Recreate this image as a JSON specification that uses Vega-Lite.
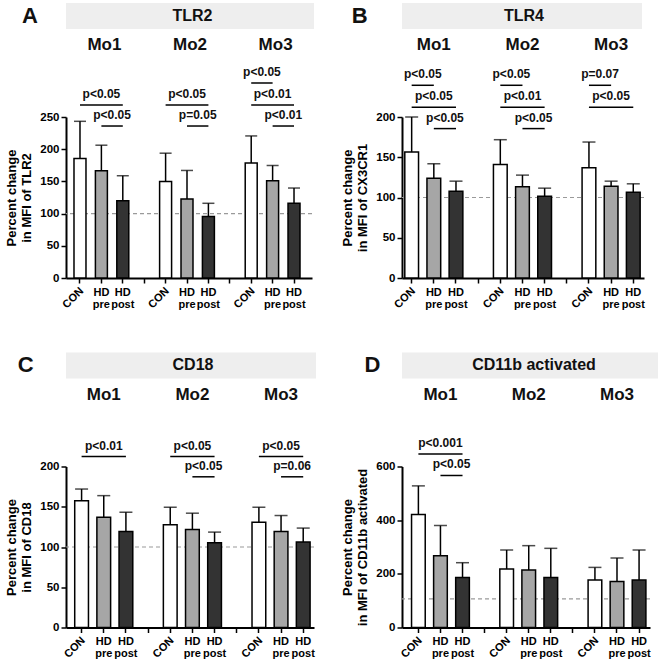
{
"$schema": "https://vega.github.io/schema/vega-lite/v6.json",
"padding": {"left": 5, "top": 3, "right": 0, "bottom": 0},
"columns": 2,
"bounds": "flush",
"spacing": {"row": 188.5, "column": 88},
"config": {
 "font": "Liberation Sans",
 "view": {"stroke": null},
 "axis": {"grid": false, "domainColor": "black", "domainWidth": 2, "tickColor": "black", "tickWidth": 1.5, "tickSize": 5, "labelColor": "black", "labelFontSize": 11.5, "labelFontWeight": "bold", "titleColor": "black", "titleFontSize": 13, "titleFontWeight": "bold", "labelOverlap": false, "labelFont": "Liberation Sans", "titleFont": "Liberation Sans"},
 "axisX": {"labelFontSize": 11},
 "axisY": {"labelPadding": 2, "titlePadding": 6, "titleLineHeight": 15},
 "text": {"color": "#111111", "font": "Liberation Sans"},
 "rule": {"color": "black"},
 "tick": {"color": "black"}
},
"datasets": {
 "A": [
  {"key":"Mo1 CON","grp":"CON","mean":185.6,"upper":243.3},
  {"key":"Mo1 HD pre","grp":"HD pre","mean":166.5,"upper":206.2},
  {"key":"Mo1 HD post","grp":"HD post","mean":120.1,"upper":158.8},
  {"key":"Mo2 CON","grp":"CON","mean":150,"upper":193.8},
  {"key":"Mo2 HD pre","grp":"HD pre","mean":122.7,"upper":167},
  {"key":"Mo2 HD post","grp":"HD post","mean":95.4,"upper":116},
  {"key":"Mo3 CON","grp":"CON","mean":178.4,"upper":220.6},
  {"key":"Mo3 HD pre","grp":"HD pre","mean":151,"upper":174.7},
  {"key":"Mo3 HD post","grp":"HD post","mean":116,"upper":139.7}
 ],
 "Ap": [
  {"from":"Mo1 CON","to":"Mo1 HD post","level":268.6,"label":"p<0.05"},
  {"from":"Mo1 HD pre","to":"Mo1 HD post","level":236,"label":"p<0.05"},
  {"from":"Mo2 CON","to":"Mo2 HD post","level":268.6,"label":"p<0.05"},
  {"from":"Mo2 HD pre","to":"Mo2 HD post","level":236,"label":"p=0.05"},
  {"from":"Mo3 CON","to":"Mo3 HD pre","level":302.8,"label":"p<0.05"},
  {"from":"Mo3 CON","to":"Mo3 HD post","level":268.6,"label":"p<0.01"},
  {"from":"Mo3 HD pre","to":"Mo3 HD post","level":236,"label":"p<0.01"}
 ],
 "B": [
  {"key":"Mo1 CON","grp":"CON","mean":156.4,"upper":200},
  {"key":"Mo1 HD pre","grp":"HD pre","mean":124,"upper":141.9},
  {"key":"Mo1 HD post","grp":"HD post","mean":107.9,"upper":120.3},
  {"key":"Mo2 CON","grp":"CON","mean":141,"upper":171.8},
  {"key":"Mo2 HD pre","grp":"HD pre","mean":113.3,"upper":127.8},
  {"key":"Mo2 HD post","grp":"HD post","mean":101.7,"upper":111.6},
  {"key":"Mo3 CON","grp":"CON","mean":137,"upper":168.9},
  {"key":"Mo3 HD pre","grp":"HD pre","mean":114.1,"upper":120.3},
  {"key":"Mo3 HD post","grp":"HD post","mean":106.6,"upper":117}
 ],
 "Bp": [
  {"from":"Mo1 CON","to":"Mo1 HD pre","level":239.4,"label":"p<0.05"},
  {"from":"Mo1 CON","to":"Mo1 HD post","level":212,"label":"p<0.05"},
  {"from":"Mo1 HD pre","to":"Mo1 HD post","level":185.6,"label":"p<0.05"},
  {"from":"Mo2 CON","to":"Mo2 HD pre","level":239.4,"label":"p<0.05"},
  {"from":"Mo2 CON","to":"Mo2 HD post","level":212,"label":"p<0.01"},
  {"from":"Mo2 HD pre","to":"Mo2 HD post","level":185.6,"label":"p<0.05"},
  {"from":"Mo3 CON","to":"Mo3 HD pre","level":239.4,"label":"p=0.07"},
  {"from":"Mo3 CON","to":"Mo3 HD post","level":212,"label":"p<0.05"}
 ],
 "C": [
  {"key":"Mo1 CON","grp":"CON","mean":157.6,"upper":172},
  {"key":"Mo1 HD pre","grp":"HD pre","mean":137,"upper":163.8},
  {"key":"Mo1 HD post","grp":"HD post","mean":119.3,"upper":143.2},
  {"key":"Mo2 CON","grp":"CON","mean":127.6,"upper":149.4},
  {"key":"Mo2 HD pre","grp":"HD pre","mean":121.8,"upper":142},
  {"key":"Mo2 HD post","grp":"HD post","mean":105.3,"upper":118.5},
  {"key":"Mo3 CON","grp":"CON","mean":130.9,"upper":149.4},
  {"key":"Mo3 HD pre","grp":"HD pre","mean":119.3,"upper":139.1},
  {"key":"Mo3 HD post","grp":"HD post","mean":106.2,"upper":123.5}
 ],
 "Cp": [
  {"from":"Mo1 CON","to":"Mo1 HD post","level":212.4,"label":"p<0.01"},
  {"from":"Mo2 CON","to":"Mo2 HD post","level":212.4,"label":"p<0.05"},
  {"from":"Mo2 HD pre","to":"Mo2 HD post","level":187.2,"label":"p<0.05"},
  {"from":"Mo3 CON","to":"Mo3 HD post","level":212.4,"label":"p<0.05"},
  {"from":"Mo3 HD pre","to":"Mo3 HD post","level":187.2,"label":"p=0.06"}
 ],
 "D": [
  {"key":"Mo1 CON","grp":"CON","mean":420.7,"upper":527.8},
  {"key":"Mo1 HD pre","grp":"HD pre","mean":267.6,"upper":379.7},
  {"key":"Mo1 HD post","grp":"HD post","mean":186.7,"upper":241.5},
  {"key":"Mo2 CON","grp":"CON","mean":217.8,"upper":288.8},
  {"key":"Mo2 HD pre","grp":"HD pre","mean":214.1,"upper":305},
  {"key":"Mo2 HD post","grp":"HD post","mean":186.7,"upper":295},
  {"key":"Mo3 CON","grp":"CON","mean":176.8,"upper":224},
  {"key":"Mo3 HD pre","grp":"HD pre","mean":171.8,"upper":259},
  {"key":"Mo3 HD post","grp":"HD post","mean":176.8,"upper":288.8}
 ],
 "Dp": [
  {"from":"Mo1 CON","to":"Mo1 HD post","level":647,"label":"p<0.001"},
  {"from":"Mo1 HD pre","to":"Mo1 HD post","level":566.5,"label":"p<0.05"}
 ],
 "Mo": [
  {"mo":"Mo1","key":"Mo1 HD pre"},
  {"mo":"Mo2","key":"Mo2 HD pre"},
  {"mo":"Mo3","key":"Mo3 HD pre"}
 ]
},
"concat": [
 {
  "width": 246, "height": 161,
  "resolve": {"axis": {"x": "independent", "y": "independent"}},
  "layer": [
   {"data": {"values": [{}]}, "mark": {"type": "rect", "color": "#eeeeee", "xOffset": 2, "x2Offset": 5},
    "encoding": {"y": {"datum": 386.6, "type": "quantitative", "axis": null}, "y2": {"datum": 427}}},
   {"data": {"values": [{}]}, "mark": {"type": "text", "text": "TLR2", "fontSize": 16, "fontWeight": "bold", "baseline": "middle", "dx": 3.5},
    "encoding": {"y": {"datum": 406.8, "type": "quantitative", "axis": null}}},
   {"data": {"values": [{}]}, "mark": {"type": "text", "text": "A", "fontSize": 22, "fontWeight": "bold", "baseline": "middle", "align": "center", "dx": -50},
    "encoding": {"x": {"datum": "Mo1 CON", "type": "nominal", "axis": null}, "y": {"datum": 406.8, "type": "quantitative", "axis": null}}},
   {"data": {"name": "Mo"}, "mark": {"type": "text", "fontSize": 17, "fontWeight": "bold", "baseline": "middle", "dx": 3},
    "encoding": {"x": {"field": "key", "type": "nominal", "axis": null}, "y": {"datum": 361.8, "type": "quantitative", "axis": null}, "text": {"field": "mo"}}},
   {"data": {"values": [{}]}, "mark": {"type": "rule", "strokeDash": [4, 3], "color": "#9a9a9a", "strokeWidth": 1.2},
    "encoding": {"y": {"datum": 100, "type": "quantitative", "axis": null}}},
   {"data": {"name": "A"}, "mark": {"type": "bar", "stroke": "black", "strokeWidth": 1.5},
    "encoding": {
     "x": {"field": "key", "type": "nominal",
      "scale": {"domain": ["Mo1 CON","Mo1 HD pre","Mo1 HD post","s1","Mo2 CON","Mo2 HD pre","Mo2 HD post","s2","Mo3 CON","Mo3 HD pre","Mo3 HD post"], "paddingInner": 0.44, "paddingOuter": 0.467, "align": 0.4},
      "axis": {"title": null, "orient": "bottom", "labelExpr": "indexof(datum.value,'CON')>=0 ? 'CON' : ''", "labelAngle": -45, "labelAlign": "right", "labelBaseline": "middle", "labelPadding": 6, "labelOffset": 2}},
     "y": {"field": "mean", "type": "quantitative", "scale": {"domain": [0, 250], "nice": false},
      "axis": {"title": ["Percent change", "in MFI of TLR2"], "values": [0, 50, 100, 150, 200, 250], "labelOverlap": false, "orient": "left"}},
     "color": {"field": "grp", "type": "nominal", "scale": {"domain": ["CON", "HD pre", "HD post"], "range": ["#ffffff", "#a6a6a6", "#333333"]}, "legend": null}
    }},
   {"data": {"name": "A"}, "mark": {"type": "rule", "strokeWidth": 1.5},
    "encoding": {
     "x": {"field": "key", "type": "nominal",
      "axis": {"title": null, "orient": "bottom", "domain": false, "ticks": false, "labelExpr": "indexof(datum.value,'HD pre')>=0 ? ['HD','pre'] : indexof(datum.value,'HD post')>=0 ? ['HD','post'] : ''", "labelAngle": 0, "labelAlign": "center", "labelBaseline": "top", "labelPadding": 8, "labelLineHeight": 12}},
     "y": {"field": "mean", "type": "quantitative", "axis": null}, "y2": {"field": "upper"}}},
   {"data": {"name": "A"}, "mark": {"type": "tick", "thickness": 1.5, "size": 12},
    "encoding": {"x": {"field": "key", "type": "nominal", "axis": null}, "y": {"field": "upper", "type": "quantitative", "axis": null}}},
   {"data": {"name": "Ap"}, "mark": {"type": "rule", "strokeWidth": 1.5},
    "encoding": {"x": {"field": "from", "type": "nominal", "axis": null}, "x2": {"field": "to"}, "y": {"field": "level", "type": "quantitative", "axis": null}}},
   {"data": {"name": "Ap"}, "transform": [{"filter": "indexof(datum.from,'CON')>=0 && indexof(datum.to,'post')>=0"}],
    "mark": {"type": "text", "fontSize": 12, "fontWeight": "bold", "baseline": "alphabetic", "dy": -7},
    "encoding": {"x": {"field": "from", "type": "nominal", "bandPosition": 2.286, "axis": null}, "y": {"field": "level", "type": "quantitative", "axis": null}, "text": {"field": "label"}}},
   {"data": {"name": "Ap"}, "transform": [{"filter": "!(indexof(datum.from,'CON')>=0 && indexof(datum.to,'post')>=0)"}],
    "mark": {"type": "text", "fontSize": 12, "fontWeight": "bold", "baseline": "alphabetic", "dy": -7},
    "encoding": {"x": {"field": "from", "type": "nominal", "bandPosition": 1.393, "axis": null}, "y": {"field": "level", "type": "quantitative", "axis": null}, "text": {"field": "label"}}}
  ]
 },
 {
  "width": 242, "height": 161,
  "resolve": {"axis": {"x": "independent", "y": "independent"}},
  "layer": [
   {"data": {"values": [{}]}, "mark": {"type": "rect", "color": "#eeeeee", "xOffset": -2, "x2Offset": 4},
    "encoding": {"y": {"datum": 309.3, "type": "quantitative", "axis": null}, "y2": {"datum": 341.6}}},
   {"data": {"values": [{}]}, "mark": {"type": "text", "text": "TLR4", "fontSize": 16, "fontWeight": "bold", "baseline": "middle", "dx": 1},
    "encoding": {"y": {"datum": 325.5, "type": "quantitative", "axis": null}}},
   {"data": {"values": [{}]}, "mark": {"type": "text", "text": "B", "fontSize": 22, "fontWeight": "bold", "baseline": "middle", "align": "center", "dx": -52},
    "encoding": {"x": {"datum": "Mo1 CON", "type": "nominal", "axis": null}, "y": {"datum": 325.5, "type": "quantitative", "axis": null}}},
   {"data": {"name": "Mo"}, "mark": {"type": "text", "fontSize": 17, "fontWeight": "bold", "baseline": "middle"},
    "encoding": {"x": {"field": "key", "type": "nominal", "axis": null}, "y": {"datum": 289.4, "type": "quantitative", "axis": null}, "text": {"field": "mo"}}},
   {"data": {"values": [{}]}, "mark": {"type": "rule", "strokeDash": [4, 3], "color": "#9a9a9a", "strokeWidth": 1.2},
    "encoding": {"y": {"datum": 100, "type": "quantitative", "axis": null}}},
   {"data": {"name": "B"}, "mark": {"type": "bar", "stroke": "black", "strokeWidth": 1.5},
    "encoding": {
     "x": {"field": "key", "type": "nominal",
      "scale": {"domain": ["Mo1 CON","Mo1 HD pre","Mo1 HD post","s1","Mo2 CON","Mo2 HD pre","Mo2 HD post","s2","Mo3 CON","Mo3 HD pre","Mo3 HD post"], "paddingInner": 0.38, "paddingOuter": 0.15, "align": 0.42},
      "axis": {"title": null, "orient": "bottom", "labelExpr": "indexof(datum.value,'CON')>=0 ? 'CON' : ''", "labelAngle": -45, "labelAlign": "right", "labelBaseline": "middle", "labelPadding": 6, "labelOffset": 2}},
     "y": {"field": "mean", "type": "quantitative", "scale": {"domain": [0, 200], "nice": false},
      "axis": {"title": ["Percent change", "in MFI of CX3CR1"], "values": [0, 50, 100, 150, 200], "labelOverlap": false, "orient": "left"}},
     "color": {"field": "grp", "type": "nominal", "scale": {"domain": ["CON", "HD pre", "HD post"], "range": ["#ffffff", "#a6a6a6", "#333333"]}, "legend": null}
    }},
   {"data": {"name": "B"}, "mark": {"type": "rule", "strokeWidth": 1.5},
    "encoding": {
     "x": {"field": "key", "type": "nominal",
      "axis": {"title": null, "orient": "bottom", "domain": false, "ticks": false, "labelExpr": "indexof(datum.value,'HD pre')>=0 ? ['HD','pre'] : indexof(datum.value,'HD post')>=0 ? ['HD','post'] : ''", "labelAngle": 0, "labelAlign": "center", "labelBaseline": "top", "labelPadding": 8, "labelLineHeight": 12}},
     "y": {"field": "mean", "type": "quantitative", "axis": null}, "y2": {"field": "upper"}}},
   {"data": {"name": "B"}, "mark": {"type": "tick", "thickness": 1.5, "size": 13},
    "encoding": {"x": {"field": "key", "type": "nominal", "axis": null}, "y": {"field": "upper", "type": "quantitative", "axis": null}}},
   {"data": {"name": "Bp"}, "mark": {"type": "rule", "strokeWidth": 1.5},
    "encoding": {"x": {"field": "from", "type": "nominal", "axis": null}, "x2": {"field": "to"}, "y": {"field": "level", "type": "quantitative", "axis": null}}},
   {"data": {"name": "Bp"}, "transform": [{"filter": "indexof(datum.from,'CON')>=0 && indexof(datum.to,'post')>=0"}],
    "mark": {"type": "text", "fontSize": 12, "fontWeight": "bold", "baseline": "alphabetic", "dy": -7},
    "encoding": {"x": {"field": "from", "type": "nominal", "bandPosition": 2.113, "axis": null}, "y": {"field": "level", "type": "quantitative", "axis": null}, "text": {"field": "label"}}},
   {"data": {"name": "Bp"}, "transform": [{"filter": "!(indexof(datum.from,'CON')>=0 && indexof(datum.to,'post')>=0)"}],
    "mark": {"type": "text", "fontSize": 12, "fontWeight": "bold", "baseline": "alphabetic", "dy": -7},
    "encoding": {"x": {"field": "from", "type": "nominal", "bandPosition": 1.306, "axis": null}, "y": {"field": "level", "type": "quantitative", "axis": null}, "text": {"field": "label"}}}
  ]
 },
 {
  "width": 248, "height": 161,
  "resolve": {"axis": {"x": "independent", "y": "independent"}},
  "layer": [
   {"data": {"values": [{}]}, "mark": {"type": "rect", "color": "#eeeeee", "xOffset": 2, "x2Offset": 4},
    "encoding": {"y": {"datum": 309.3, "type": "quantitative", "axis": null}, "y2": {"datum": 341.6}}},
   {"data": {"values": [{}]}, "mark": {"type": "text", "text": "CD18", "fontSize": 16, "fontWeight": "bold", "baseline": "middle", "dx": 3},
    "encoding": {"y": {"datum": 325.5, "type": "quantitative", "axis": null}}},
   {"data": {"values": [{}]}, "mark": {"type": "text", "text": "C", "fontSize": 22, "fontWeight": "bold", "baseline": "middle", "align": "center", "dx": -56},
    "encoding": {"x": {"datum": "Mo1 CON", "type": "nominal", "axis": null}, "y": {"datum": 325.5, "type": "quantitative", "axis": null}}},
   {"data": {"name": "Mo"}, "mark": {"type": "text", "fontSize": 17, "fontWeight": "bold", "baseline": "middle"},
    "encoding": {"x": {"field": "key", "type": "nominal", "axis": null}, "y": {"datum": 289.4, "type": "quantitative", "axis": null}, "text": {"field": "mo"}}},
   {"data": {"values": [{}]}, "mark": {"type": "rule", "strokeDash": [4, 3], "color": "#9a9a9a", "strokeWidth": 1.2},
    "encoding": {"y": {"datum": 100, "type": "quantitative", "axis": null}}},
   {"data": {"name": "C"}, "mark": {"type": "bar", "stroke": "black", "strokeWidth": 1.5},
    "encoding": {
     "x": {"field": "key", "type": "nominal",
      "scale": {"domain": ["Mo1 CON","Mo1 HD pre","Mo1 HD post","s1","Mo2 CON","Mo2 HD pre","Mo2 HD post","s2","Mo3 CON","Mo3 HD pre","Mo3 HD post"], "paddingInner": 0.38, "paddingOuter": 0.285, "align": 0.69},
      "axis": {"title": null, "orient": "bottom", "labelExpr": "indexof(datum.value,'CON')>=0 ? 'CON' : ''", "labelAngle": -45, "labelAlign": "right", "labelBaseline": "middle", "labelPadding": 6, "labelOffset": 2}},
     "y": {"field": "mean", "type": "quantitative", "scale": {"domain": [0, 200], "nice": false},
      "axis": {"title": ["Percent change", "in MFI of CD18"], "values": [0, 50, 100, 150, 200], "labelOverlap": false, "orient": "left"}},
     "color": {"field": "grp", "type": "nominal", "scale": {"domain": ["CON", "HD pre", "HD post"], "range": ["#ffffff", "#a6a6a6", "#333333"]}, "legend": null}
    }},
   {"data": {"name": "C"}, "mark": {"type": "rule", "strokeWidth": 1.5},
    "encoding": {
     "x": {"field": "key", "type": "nominal",
      "axis": {"title": null, "orient": "bottom", "domain": false, "ticks": false, "labelExpr": "indexof(datum.value,'HD pre')>=0 ? ['HD','pre'] : indexof(datum.value,'HD post')>=0 ? ['HD','post'] : ''", "labelAngle": 0, "labelAlign": "center", "labelBaseline": "top", "labelPadding": 8, "labelLineHeight": 12}},
     "y": {"field": "mean", "type": "quantitative", "axis": null}, "y2": {"field": "upper"}}},
   {"data": {"name": "C"}, "mark": {"type": "tick", "thickness": 1.5, "size": 13},
    "encoding": {"x": {"field": "key", "type": "nominal", "axis": null}, "y": {"field": "upper", "type": "quantitative", "axis": null}}},
   {"data": {"name": "Cp"}, "mark": {"type": "rule", "strokeWidth": 1.5},
    "encoding": {"x": {"field": "from", "type": "nominal", "axis": null}, "x2": {"field": "to"}, "y": {"field": "level", "type": "quantitative", "axis": null}}},
   {"data": {"name": "Cp"}, "transform": [{"filter": "indexof(datum.from,'CON')>=0 && indexof(datum.to,'post')>=0"}],
    "mark": {"type": "text", "fontSize": 12, "fontWeight": "bold", "baseline": "alphabetic", "dy": -7},
    "encoding": {"x": {"field": "from", "type": "nominal", "bandPosition": 2.113, "axis": null}, "y": {"field": "level", "type": "quantitative", "axis": null}, "text": {"field": "label"}}},
   {"data": {"name": "Cp"}, "transform": [{"filter": "!(indexof(datum.from,'CON')>=0 && indexof(datum.to,'post')>=0)"}],
    "mark": {"type": "text", "fontSize": 12, "fontWeight": "bold", "baseline": "alphabetic", "dy": -7},
    "encoding": {"x": {"field": "from", "type": "nominal", "bandPosition": 1.306, "axis": null}, "y": {"field": "level", "type": "quantitative", "axis": null}, "text": {"field": "label"}}}
  ]
 },
 {
  "width": 248, "height": 161,
  "resolve": {"axis": {"x": "independent", "y": "independent"}},
  "layer": [
   {"data": {"values": [{}]}, "mark": {"type": "rect", "color": "#eeeeee", "xOffset": 8, "x2Offset": 8},
    "encoding": {"y": {"datum": 928, "type": "quantitative", "axis": null}, "y2": {"datum": 1024.8}}},
   {"data": {"values": [{}]}, "mark": {"type": "text", "text": "CD11b activated", "fontSize": 16, "fontWeight": "bold", "baseline": "middle", "dx": 8},
    "encoding": {"y": {"datum": 976.4, "type": "quantitative", "axis": null}}},
   {"data": {"values": [{}]}, "mark": {"type": "text", "text": "D", "fontSize": 22, "fontWeight": "bold", "baseline": "middle", "align": "center", "dx": -46},
    "encoding": {"x": {"datum": "Mo1 CON", "type": "nominal", "axis": null}, "y": {"datum": 976.4, "type": "quantitative", "axis": null}}},
   {"data": {"name": "Mo"}, "mark": {"type": "text", "fontSize": 17, "fontWeight": "bold", "baseline": "middle"},
    "encoding": {"x": {"field": "key", "type": "nominal", "axis": null}, "y": {"datum": 868.3, "type": "quantitative", "axis": null}, "text": {"field": "mo"}}},
   {"data": {"values": [{}]}, "mark": {"type": "rule", "strokeDash": [4, 3], "color": "#9a9a9a", "strokeWidth": 1.2},
    "encoding": {"y": {"datum": 107, "type": "quantitative", "axis": null}}},
   {"data": {"name": "D"}, "mark": {"type": "bar", "stroke": "black", "strokeWidth": 1.5},
    "encoding": {
     "x": {"field": "key", "type": "nominal",
      "scale": {"domain": ["Mo1 CON","Mo1 HD pre","Mo1 HD post","s1","Mo2 CON","Mo2 HD pre","Mo2 HD post","s2","Mo3 CON","Mo3 HD pre","Mo3 HD post"], "paddingInner": 0.38, "paddingOuter": 0.309, "align": 0.7},
      "axis": {"title": null, "orient": "bottom", "labelExpr": "indexof(datum.value,'CON')>=0 ? 'CON' : ''", "labelAngle": -45, "labelAlign": "right", "labelBaseline": "middle", "labelPadding": 6, "labelOffset": 2}},
     "y": {"field": "mean", "type": "quantitative", "scale": {"domain": [0, 600], "nice": false},
      "axis": {"title": ["Percent change", "in MFI of CD11b activated"], "values": [0, 200, 400, 600], "labelOverlap": false, "orient": "left"}},
     "color": {"field": "grp", "type": "nominal", "scale": {"domain": ["CON", "HD pre", "HD post"], "range": ["#ffffff", "#a6a6a6", "#333333"]}, "legend": null}
    }},
   {"data": {"name": "D"}, "mark": {"type": "rule", "strokeWidth": 1.5},
    "encoding": {
     "x": {"field": "key", "type": "nominal",
      "axis": {"title": null, "orient": "bottom", "domain": false, "ticks": false, "labelExpr": "indexof(datum.value,'HD pre')>=0 ? ['HD','pre'] : indexof(datum.value,'HD post')>=0 ? ['HD','post'] : ''", "labelAngle": 0, "labelAlign": "center", "labelBaseline": "top", "labelPadding": 8, "labelLineHeight": 12}},
     "y": {"field": "mean", "type": "quantitative", "axis": null}, "y2": {"field": "upper"}}},
   {"data": {"name": "D"}, "mark": {"type": "tick", "thickness": 1.5, "size": 13},
    "encoding": {"x": {"field": "key", "type": "nominal", "axis": null}, "y": {"field": "upper", "type": "quantitative", "axis": null}}},
   {"data": {"name": "Dp"}, "mark": {"type": "rule", "strokeWidth": 1.5},
    "encoding": {"x": {"field": "from", "type": "nominal", "axis": null}, "x2": {"field": "to"}, "y": {"field": "level", "type": "quantitative", "axis": null}}},
   {"data": {"name": "Dp"}, "transform": [{"filter": "indexof(datum.from,'CON')>=0 && indexof(datum.to,'post')>=0"}],
    "mark": {"type": "text", "fontSize": 12, "fontWeight": "bold", "baseline": "alphabetic", "dy": -7},
    "encoding": {"x": {"field": "from", "type": "nominal", "bandPosition": 2.113, "axis": null}, "y": {"field": "level", "type": "quantitative", "axis": null}, "text": {"field": "label"}}},
   {"data": {"name": "Dp"}, "transform": [{"filter": "!(indexof(datum.from,'CON')>=0 && indexof(datum.to,'post')>=0)"}],
    "mark": {"type": "text", "fontSize": 12, "fontWeight": "bold", "baseline": "alphabetic", "dy": -7},
    "encoding": {"x": {"field": "from", "type": "nominal", "bandPosition": 1.306, "axis": null}, "y": {"field": "level", "type": "quantitative", "axis": null}, "text": {"field": "label"}}}
  ]
 }
]
}
